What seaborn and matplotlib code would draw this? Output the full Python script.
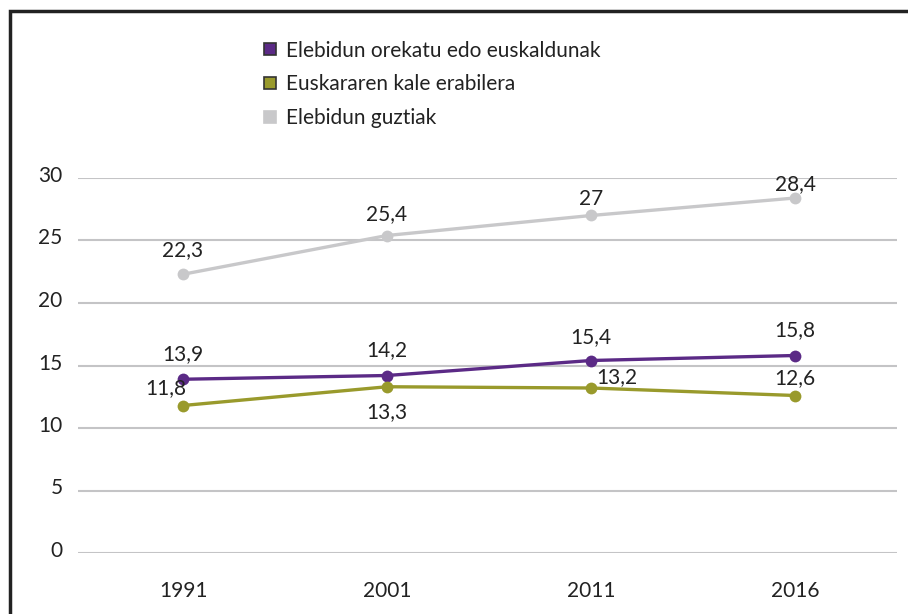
import matplotlib
matplotlib.use("Agg")
import matplotlib.pyplot as plt
import matplotlib.transforms as mtransforms
from matplotlib.lines import Line2D
from matplotlib.patches import Rectangle
import seaborn as sns
import pandas as pd

years = ["1991", "2001", "2011", "2016"]
series_names = ["Elebidun orekatu edo euskaldunak", "Euskararen kale erabilera", "Elebidun guztiak"]
orekatu = [13.9, 14.2, 15.4, 15.8]
kale = [11.8, 13.3, 13.2, 12.6]
guztiak = [22.3, 25.4, 27.0, 28.4]
value_labels = {
    series_names[0]: ["13,9", "14,2", "15,4", "15,8"],
    series_names[1]: ["11,8", "13,3", "13,2", "12,6"],
    series_names[2]: ["22,3", "25,4", "27", "28,4"],
}
yticks = [0, 5, 10, 15, 20, 25, 30]

colors = {series_names[0]: "#5b2a86", series_names[1]: "#999a2c", series_names[2]: "#c8c8ca"}
# label offsets in pixels (dx, dy) relative to each point
offsets = {
    series_names[0]: [(0, 25), (0, 25), (0, 23), (0, 25)],
    series_names[1]: [(-17, 17), (0, -25), (26, 11), (0, 17)],
    series_names[2]: [(0, 24), (0, 21), (0, 16), (0, 14)],
}

rows = []
for name, vals in zip(series_names, [orekatu, kale, guztiak]):
    for y, v in zip(years, vals):
        rows.append({"year": y, "value": v, "series": name})
df = pd.DataFrame(rows)

sns.set_theme(style="white")
plt.rcParams["font.family"] = ["Lato", "DejaVu Sans"]

W, H = 908, 614
FS = 15
fig = plt.figure(figsize=(W / 100, H / 100), dpi=100)
ax = fig.add_axes([78 / W, (H - 553) / H, (897 - 78) / W, (553 - 178) / H])

for y in yticks:
    ax.axhline(y, color="#c4c4c6", lw=1.5, zorder=0)

sns.lineplot(data=df, x="year", y="value", hue="series", palette=colors,
             hue_order=series_names, marker="o", markersize=8.5, markeredgewidth=0,
             linewidth=2.4, ax=ax, legend=False, sort=False)

ax.set_xlim(-0.515, 3.5)
ax.set_ylim(0, 30)
ax.set_yticks(yticks)
ax.set_yticklabels([str(t) for t in yticks])
ax.set_xlabel("")
ax.set_ylabel("")
for s in ax.spines.values():
    s.set_visible(False)
ax.tick_params(axis="both", length=0, labelsize=FS, labelcolor="#222222")
ax.tick_params(axis="y", pad=11)
ax.tick_params(axis="x", pad=20)
off = mtransforms.ScaledTranslation(0, 4 / 100, fig.dpi_scale_trans)
for lab in ax.get_yticklabels():
    lab.set_transform(lab.get_transform() + off)

for name, vals in zip(series_names, [orekatu, kale, guztiak]):
    for i, v in enumerate(vals):
        dx, dy = offsets[name][i]
        ax.annotate(value_labels[name][i], (i, v), xytext=(dx * 0.72, dy * 0.72),
                    textcoords="offset points", ha="center", va="center",
                    fontsize=FS, color="#222222")

handles = []
for name in series_names:
    ec = "#333333" if name != series_names[2] else colors[name]
    handles.append(Line2D([], [], marker="s", linestyle="none", markersize=9,
                          markerfacecolor=colors[name], markeredgecolor=ec,
                          markeredgewidth=1.2))
fig.legend(handles, series_names, loc="upper left", bbox_to_anchor=(243 / W, 1 - 22 / H),
           frameon=False, fontsize=FS, handlelength=0.8, handletextpad=0.35,
           labelspacing=0.65, labelcolor="#222222")

fig.patches.append(Rectangle((10 / W, -0.1), 1.2, 1 - 11 / H + 0.1, transform=fig.transFigure,
                             fill=False, edgecolor="#222222", lw=2.5, zorder=10))

fig.savefig("out.png", dpi=100)
